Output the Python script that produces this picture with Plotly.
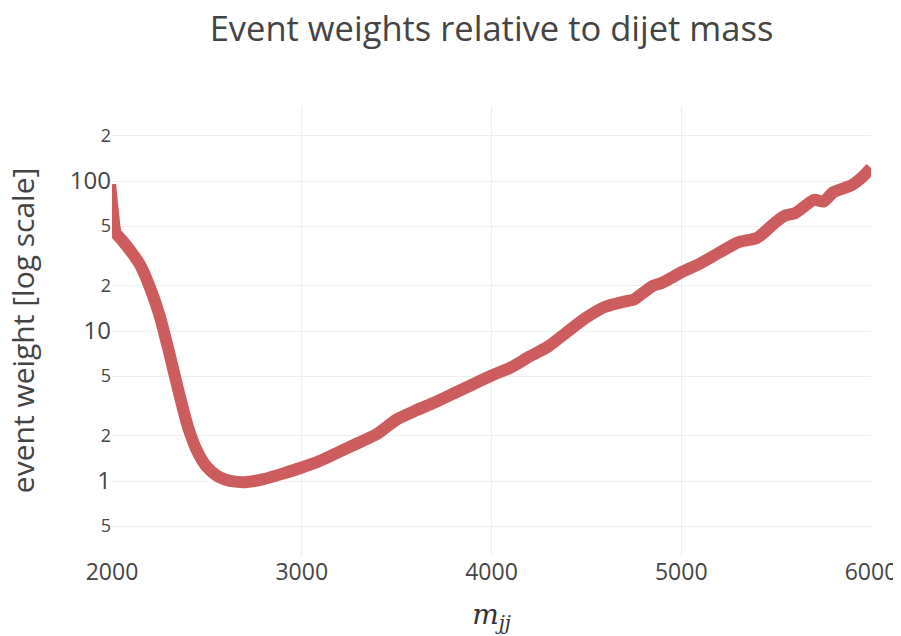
import plotly.graph_objects as go

mjj = [1990, 2005, 2020, 2050, 2100, 2150, 2200, 2250, 2300, 2350, 2400, 2450, 2500, 2550,
       2600, 2650, 2700, 2800, 2900, 3000, 3100, 3200, 3300, 3400, 3500, 3600, 3700,
       3800, 3900, 4000, 4100, 4200, 4300, 4400, 4500, 4600, 4700, 4750, 4800, 4850,
       4900, 5000, 5100, 5200, 5300, 5400, 5500, 5550, 5600, 5700, 5750, 5800, 5900,
       5950, 6000]
weights = [95, 62, 45, 40.7, 33.9, 27.3, 19.5, 12.8, 7.3, 4.0, 2.3, 1.57, 1.24, 1.09,
           1.02, 0.99, 0.98, 1.03, 1.12, 1.23, 1.37, 1.57, 1.80, 2.07, 2.57, 2.95, 3.34,
           3.83, 4.4, 5.05, 5.7, 6.75, 7.9, 9.9, 12.3, 14.5, 15.7, 16.2, 18.0, 20.0,
           21.0, 24.6, 28.2, 33.3, 39.0, 41.8, 53.5, 59.0, 61.0, 75.0, 73.0, 84.0, 94.0,
           105.0, 122.0]

fig = go.Figure()
fig.add_trace(go.Scatter(
    x=mjj, y=weights, mode="lines",
    line=dict(color="#cd5c5c", width=12, shape="spline", smoothing=0.6),
    showlegend=False,
))

fig.update_layout(
    width=901, height=636,
    margin=dict(l=104, r=29, t=98, b=88),
    paper_bgcolor="white", plot_bgcolor="white",
    font=dict(family="Open Sans", color="#444"),
    title=dict(text="Event weights relative to dijet mass", x=0.5, xref="paper",
               xanchor="center", y=0.967, yanchor="middle",
               font=dict(size=34.5, color="#444")),
    xaxis=dict(range=[2000, 6000], showgrid=True, gridcolor="#eeeeee", zeroline=False,
               showline=False, tickfont=dict(size=23), dtick=1000, automargin=True,
               title=dict(text="<i>m<sub>jj</sub></i>", standoff=18,
                          font=dict(family="DejaVu Serif", size=28, color="#333"))),
    yaxis=dict(type="log", range=[-0.5, 2.5], dtick="D2", showgrid=True,
               gridcolor="#eeeeee", zeroline=False, showline=False,
               tickfont=dict(size=24), automargin=False),
    annotations=[dict(text="event weight [log scale]", textangle=-90,
                      xref="paper", yref="paper", x=-0.1185, y=0.502,
                      xanchor="center", yanchor="middle", showarrow=False,
                      font=dict(size=30, color="#444"))],
)

fig.write_html("out.html")
